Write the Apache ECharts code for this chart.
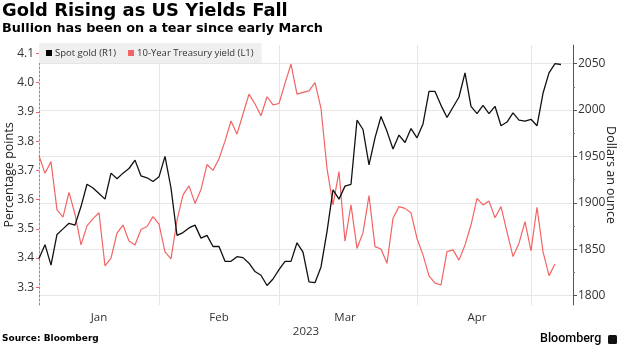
<!DOCTYPE html>
<html>
<head>
<meta charset="utf-8">
<script src="https://cdn.jsdelivr.net/npm/echarts@6/dist/echarts.min.js"></script>
<style>html,body{margin:0;padding:0;background:#fff;}#c{width:620px;height:348px;}</style>
</head>
<body>
<div id="c"></div>
<script>
// Trading-day index categories (Jan 2023 .. early May 2023)
const days = Array.from({length: 90}, (_, i) => String(i));
const monthBounds = [20, 40, 63, 82];
const monthLabelIdx = [10, 30, 51, 73];
const monthNames = ['Jan', 'Feb', 'Mar', 'Apr'];
const yearLabel = '2023';

const goldTicks = [1800, 1850, 1900, 1950, 2000, 2050];
const goldMinorTicks = [1825, 1875, 1925, 1975, 2025];
const yieldTicks = [3.3, 3.4, 3.5, 3.6, 3.7, 3.8, 3.9, 4.0, 4.1];

// Spot gold (R1), dollars an ounce
const spotGold = [
  1840, 1855, 1833, 1866, 1872, 1878, 1876, 1896, 1920, 1916,
  1910, 1904, 1932, 1926, 1932, 1937, 1946, 1929, 1927, 1923,
  1928, 1950, 1916, 1865, 1868, 1873, 1876, 1862, 1865, 1853,
  1853, 1837, 1837, 1842, 1841, 1835, 1826, 1822, 1811, 1818,
  1828, 1837, 1837, 1857, 1847, 1815, 1814, 1831, 1869, 1914,
  1904, 1918, 1920, 1989, 1979, 1941, 1970, 1993, 1977, 1958,
  1973, 1965, 1980, 1970, 1985, 2020, 2020, 2005, 1992, 2003,
  2014, 2040, 2004, 1996, 2005, 1996, 2004, 1983, 1987, 1997,
  1989, 1988, 1990, 1983, 2018, 2040, 2050, 2049
];

// 10-Year Treasury yield (L1), percentage points
const treasuryYield = [
  3.75, 3.69, 3.73, 3.565, 3.54, 3.625, 3.55, 3.445, 3.51, 3.535,
  3.555, 3.373, 3.40, 3.485, 3.513, 3.458, 3.445, 3.498, 3.508, 3.542,
  3.516, 3.421, 3.397, 3.53, 3.616, 3.647, 3.587, 3.635, 3.72, 3.70,
  3.74, 3.80, 3.869, 3.824, 3.893, 3.961, 3.927, 3.887, 3.952, 3.924,
  3.929, 3.998, 4.064, 3.961, 3.967, 3.972, 4.0, 3.912, 3.707, 3.582,
  3.696, 3.458, 3.582, 3.433, 3.487, 3.614, 3.439, 3.431, 3.382, 3.536,
  3.576, 3.570, 3.555, 3.467, 3.411, 3.339, 3.314, 3.308, 3.422, 3.428,
  3.393, 3.445, 3.513, 3.604, 3.582, 3.595, 3.538, 3.576, 3.49, 3.405,
  3.451, 3.525, 3.425, 3.574, 3.422, 3.34, 3.38
];

const RED = '#f26464';
const GRID = '#e6e6e6';
const AX = 'Open Sans';
const HEAD = 'DejaVu Sans';

const chart = echarts.init(document.getElementById('c'), null, {renderer: 'canvas'});
chart.setOption({
  animation: false,
  backgroundColor: '#fff',
  grid: {left: 39, right: 47, top: 45, bottom: 43, containLabel: false, outerBoundsMode: 'none'},
  legend: {
    left: 39, top: 43,
    backgroundColor: '#efefef',
    padding: [5, 8, 5, 7],
    itemWidth: 6, itemHeight: 6, itemGap: 12,
    icon: 'rect',
    textStyle: {fontFamily: AX, fontSize: 9.5, color: '#333', padding: [0, 0, 0, -2]},
    data: ['Spot gold (R1)', '10-Year Treasury yield (L1)']
  },
  xAxis: {
    type: 'category',
    data: days,
    boundaryGap: false,
    axisLine: {show: false},
    axisTick: {show: false},
    splitLine: {
      show: true,
      interval: (idx) => monthBounds.indexOf(idx) >= 0,
      lineStyle: {color: GRID, width: 1}
    },
    axisLabel: {
      interval: (idx) => monthLabelIdx.indexOf(idx) >= 0,
      formatter: (v, idx) => monthNames[monthLabelIdx.indexOf(idx)] || '',
      fontFamily: AX, fontSize: 11.5, color: '#333', margin: 7
    },
    name: yearLabel,
    nameLocation: 'middle',
    nameGap: 21,
    nameMoveOverlap: false,
    nameTextStyle: {fontFamily: AX, fontSize: 11.5, color: '#333'}
  },
  yAxis: [
    {
      type: 'value', position: 'left',
      min: 3.2394, max: 4.1291,
      axisLine: {show: true, lineStyle: {color: RED, width: 1, type: [2, 2]}},
      axisTick: {show: true, customValues: yieldTicks, length: 3, lineStyle: {color: RED}},
      axisLabel: {customValues: yieldTicks, formatter: (v) => Number(v).toFixed(1),
        fontFamily: AX, fontSize: 12, color: '#333', margin: 5},
      splitLine: {show: false},
      name: 'Percentage points', nameLocation: 'middle', nameGap: 23, nameMoveOverlap: false,
      nameTextStyle: {fontFamily: AX, fontSize: 12.5, color: '#222'}
    },
    {
      type: 'value', position: 'right',
      min: 1790, max: 2070,
      axisLine: {show: true, lineStyle: {color: '#555', width: 1}},
      axisTick: {show: true, customValues: goldTicks, length: 4, lineStyle: {color: '#555'}},
      axisLabel: {customValues: goldTicks, formatter: (v) => String(v),
        fontFamily: AX, fontSize: 12, color: '#333', margin: 5},
      splitLine: {show: true, lineStyle: {color: GRID, width: 1}},
      name: 'Dollars an ounce', nameLocation: 'middle', nameGap: 31, nameRotate: -90, nameMoveOverlap: false,
      nameTextStyle: {fontFamily: AX, fontSize: 12.5, color: '#222'}
    },
    {
      type: 'value', position: 'right',
      min: 1790, max: 2070,
      axisLine: {show: false},
      axisTick: {show: true, customValues: goldMinorTicks, length: 2, lineStyle: {color: '#777'}},
      axisLabel: {show: false},
      splitLine: {show: false}
    }
  ],
  series: [
    {
      name: '10-Year Treasury yield (L1)', type: 'line', yAxisIndex: 0,
      data: treasuryYield, showSymbol: false, symbol: 'none',
      lineStyle: {color: RED, width: 1.2}, itemStyle: {color: RED}, z: 2
    },
    {
      name: 'Spot gold (R1)', type: 'line', yAxisIndex: 1,
      data: spotGold, showSymbol: false, symbol: 'none',
      lineStyle: {color: '#111', width: 1.3}, itemStyle: {color: '#000'}, z: 3
    }
  ],
  graphic: [
    {type: 'text', left: 2, top: 2, style: {text: 'Gold Rising as US Yields Fall', fontFamily: HEAD, fontWeight: 'bold', fontSize: 17.9, fill: '#000'}},
    {type: 'text', left: 2, top: 22.5, style: {text: 'Bullion has been on a tear since early March', fontFamily: HEAD, fontWeight: 'bold', fontSize: 12.8, fill: '#000'}},
    {type: 'text', left: 2, top: 334, style: {text: 'Source: Bloomberg', fontFamily: HEAD, fontWeight: 'bold', fontSize: 9, fill: '#000'}},
    {type: 'text', left: 540, top: 332, style: {text: 'Bloomberg', fontFamily: 'Roboto', fontWeight: 500, fontSize: 12.5, fill: '#000'}},
    {type: 'rect', shape: {x: 608, y: 335, width: 9, height: 9, r: 1.5}, style: {fill: '#111'}}
  ]
});
</script>
</body>
</html>
